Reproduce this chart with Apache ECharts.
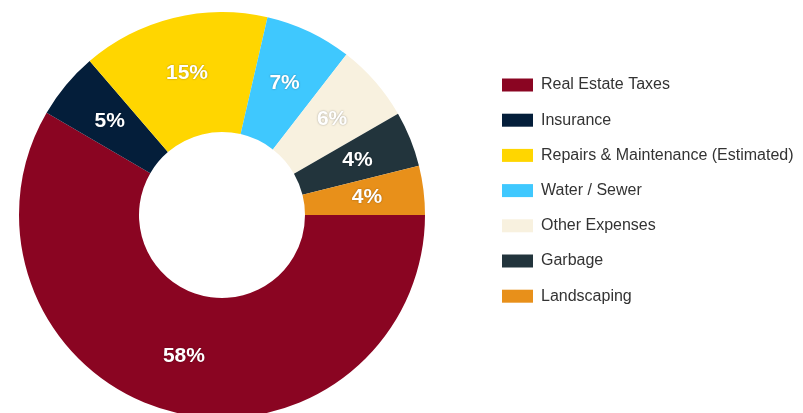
<!DOCTYPE html>
<html>
<head>
<meta charset="utf-8">
<script src="https://cdn.jsdelivr.net/npm/echarts@6/dist/echarts.min.js"></script>
<style>
  html, body { margin: 0; padding: 0; background: #fff; }
  #chart { width: 803px; height: 413px; }
</style>
</head>
<body>
<div id="chart"></div>
<script>
// expense categories and their shares
const categories = [
  "Real Estate Taxes",
  "Insurance",
  "Repairs & Maintenance (Estimated)",
  "Water / Sewer",
  "Other Expenses",
  "Garbage",
  "Landscaping",
];
const shares = [58.4, 5.3, 14.9, 6.9, 6.2, 4.4, 3.9];
const colors = ["#8a0522", "#041e3a", "#ffd600", "#3fc8fe", "#f8f1df", "#22343c", "#e8901a"];

const myChart = echarts.init(document.getElementById("chart"));

const option = {
  animation: false,
  color: colors,
  legend: {
    orient: "vertical",
    left: 497,
    top: 72,
    itemWidth: 31,
    itemHeight: 13,
    itemGap: 19.2,
    icon: "rect",
    textStyle: {
      fontFamily: "Liberation Sans, Arial, sans-serif",
      fontSize: 16,
      color: "#333",
      padding: [0, 0, 0, 3],
    },
    data: categories,
  },
  series: [
    {
      type: "pie",
      center: [222, 215],
      radius: [83, 203],
      startAngle: 0,
      clockwise: true,
      avoidLabelOverlap: false,
      label: {
        show: true,
        position: "inside",
        color: "#fff",
        fontFamily: "Liberation Sans, Arial, sans-serif",
        fontSize: 21,
        fontWeight: "bold",
        textShadowColor: "rgba(0,0,0,0.35)",
        textShadowBlur: 2,
        formatter: (p) => Math.round(p.percent) + "%",
      },
      labelLine: { show: false },
      emphasis: { disabled: true },
      data: categories.map((name, i) => ({ name, value: shares[i] })),
    },
  ],
};

myChart.setOption(option);
</script>
</body>
</html>
